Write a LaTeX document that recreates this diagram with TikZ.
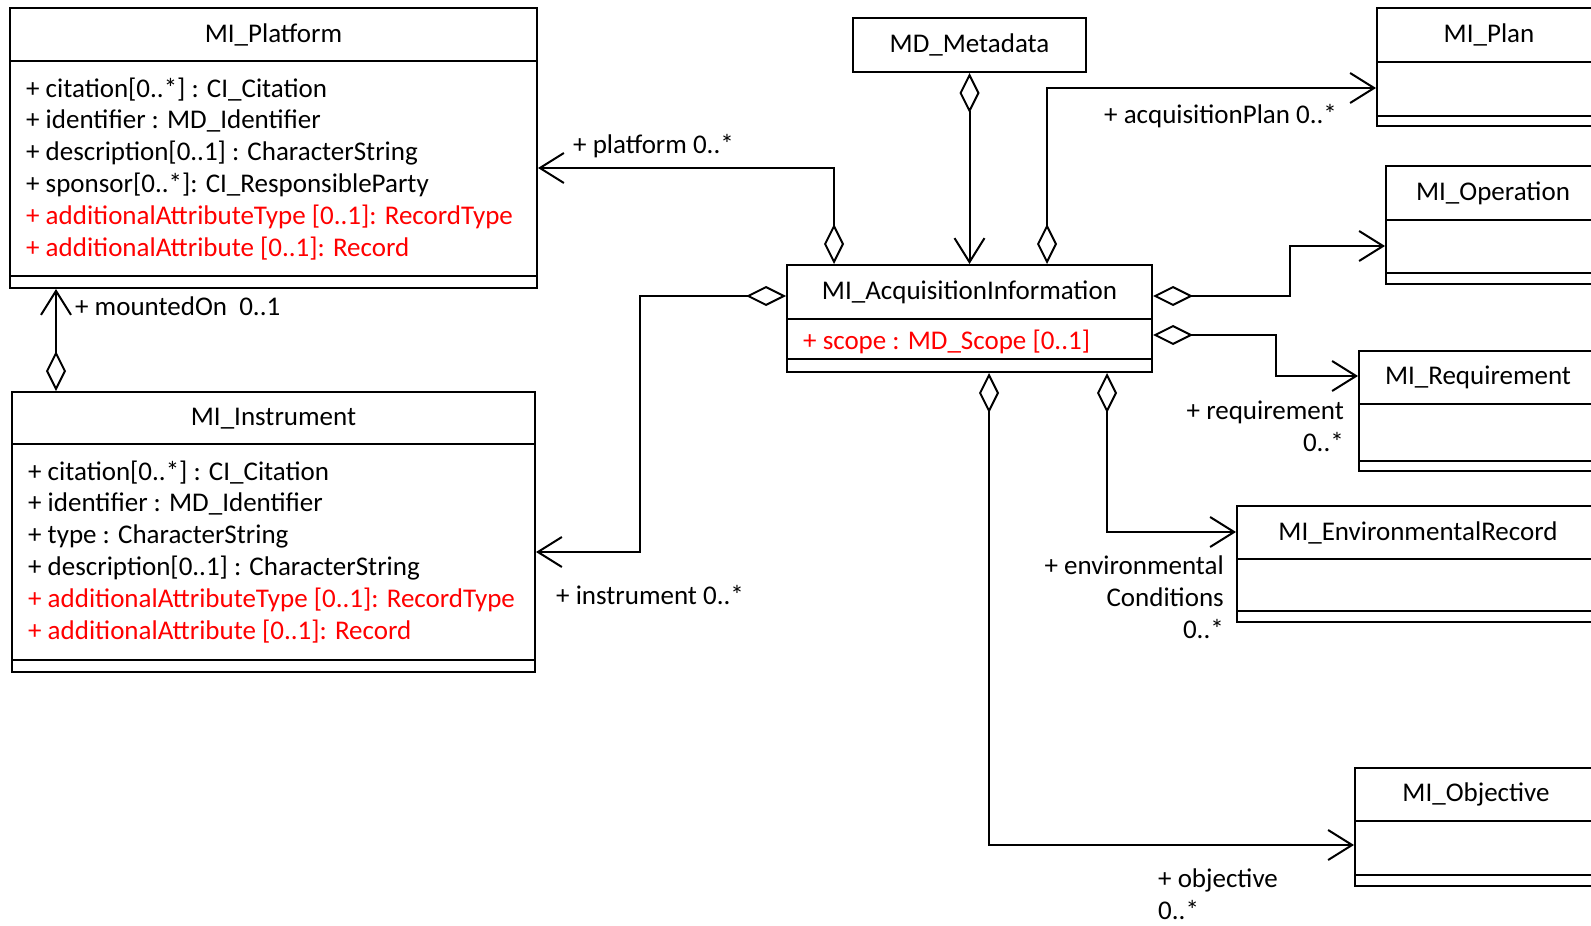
\documentclass[tikz,border=0pt]{standalone}
\usepackage{fontspec}
\setmainfont{Carlito}
\usetikzlibrary{arrows.meta,positioning}

\tikzset{
	classbox/.style={draw, line width=2pt, anchor=north west, inner sep=0pt},
	classname/.style={anchor=north, minimum height=53pt, inner sep=0pt, yshift=-1pt},
	attrlist/.style={anchor=north west, align=left, inner xsep=17pt, inner ysep=16pt},
	divider/.style={line width=2pt},
	assoc/.style={line width=2pt, {Diamond[open,length=40pt,width=20pt]}-{Straight Barb[length=24pt,width=30pt]}},
	role/.style={inner sep=0pt},
}

\begin{document}
\begin{tikzpicture}[x=1pt, y=-1pt, font=\fontsize{27}{31.8}\selectfont]
	\useasboundingbox (0,0) rectangle (1591,926);
	\clip (0,0) rectangle (1591,926);

	% Classes
	% MI_Platform
	\node[classbox, minimum width=527pt, minimum height=280pt] (plat) at (9,7) {};
	\node[classname] (plat-name) at (plat.north) {MI\_Platform};
	\draw[divider] (plat.west |- plat-name.south) -- (plat.east |- plat-name.south);
	\node[attrlist] (plat-attr) at (plat.west |- plat-name.south) {%
		+ citation[0..*] : CI\_Citation\\
		+ identifier : MD\_Identifier\\
		+ description[0..1] : CharacterString\\
		+ sponsor[0..*]: CI\_ResponsibleParty\\
		\textcolor{red}{+ additionalAttributeType [0..1]: RecordType}\\
		\textcolor{red}{+ additionalAttribute [0..1]: Record}};
	\draw[divider] ([yshift=13pt]plat.south west) -- ([yshift=13pt]plat.south east);

	% MI_Instrument
	\node[classbox, minimum width=523pt, minimum height=280pt] (inst) at (11,391) {};
	\node[classname, minimum height=52pt] (inst-name) at (inst.north) {MI\_Instrument};
	\draw[divider] (inst.west |- inst-name.south) -- (inst.east |- inst-name.south);
	\node[attrlist] (inst-attr) at (inst.west |- inst-name.south) {%
		+ citation[0..*] : CI\_Citation\\
		+ identifier : MD\_Identifier\\
		+ type : CharacterString\\
		+ description[0..1] : CharacterString\\
		\textcolor{red}{+ additionalAttributeType [0..1]: RecordType}\\
		\textcolor{red}{+ additionalAttribute [0..1]: Record}};
	\draw[divider] ([yshift=13pt]inst.south west) -- ([yshift=13pt]inst.south east);

	% MD_Metadata
	\node[classbox, minimum width=233pt, minimum height=54pt] (meta) at (852,17) {};
	\node[classname, minimum height=54pt] (meta-name) at (meta.north) {MD\_Metadata};

	% MI_AcquisitionInformation
	\node[classbox, minimum width=365pt, minimum height=107pt] (acq) at (786,264) {};
	\node[classname, minimum height=54pt] (acq-name) at (acq.north) {MI\_AcquisitionInformation};
	\draw[divider] (acq.west |- acq-name.south) -- (acq.east |- acq-name.south);
	\node[attrlist, inner ysep=10pt] (acq-attr) at (acq.west |- acq-name.south) {%
		\textcolor{red}{+ scope : MD\_Scope [0..1]}};
	\draw[divider] ([yshift=14pt]acq.south west) -- ([yshift=14pt]acq.south east);

	% MI_Plan
	\node[classbox, minimum width=224pt, minimum height=118pt] (plan) at (1376,7) {};
	\node[classname, minimum height=54pt] (plan-name) at (plan.north) {MI\_Plan};
	\draw[divider] (plan.west |- plan-name.south) -- (plan.east |- plan-name.south);
	\draw[divider] ([yshift=11pt]plan.south west) -- ([yshift=11pt]plan.south east);

	% MI_Operation
	\node[classbox, minimum width=214pt, minimum height=118pt] (oper) at (1385,165) {};
	\node[classname, minimum height=54pt] (oper-name) at (oper.north) {MI\_Operation};
	\draw[divider] (oper.west |- oper-name.south) -- (oper.east |- oper-name.south);
	\draw[divider] ([yshift=12pt]oper.south west) -- ([yshift=12pt]oper.south east);

	% MI_Requirement
	\node[classbox, minimum width=238pt, minimum height=120pt] (req) at (1358,350) {};
	\node[classname] (req-name) at (req.north) {MI\_Requirement};
	\draw[divider] (req.west |- req-name.south) -- (req.east |- req-name.south);
	\draw[divider] ([yshift=11pt]req.south west) -- ([yshift=11pt]req.south east);

	% MI_EnvironmentalRecord
	\node[classbox, minimum width=362pt, minimum height=116pt] (env) at (1236,505) {};
	\node[classname] (env-name) at (env.north) {MI\_EnvironmentalRecord};
	\draw[divider] (env.west |- env-name.south) -- (env.east |- env-name.south);
	\draw[divider] ([yshift=12pt]env.south west) -- ([yshift=12pt]env.south east);

	% MI_Objective
	\node[classbox, minimum width=242pt, minimum height=118pt] (obj) at (1354,767) {};
	\node[classname] (obj-name) at (obj.north) {MI\_Objective};
	\draw[divider] (obj.west |- obj-name.south) -- (obj.east |- obj-name.south);
	\draw[divider] ([yshift=12pt]obj.south west) -- ([yshift=12pt]obj.south east);

	% Associations
	% Instrument mounted on platform
	\draw[assoc] ([xshift=45pt]inst.north west) -- ([xshift=45pt]inst.north west |- plat.south);
	% Metadata to acquisition information
	\draw[assoc] (meta.south) -- (meta.south |- acq.north);
	% Acquisition information to platform and plan
	\draw[assoc] ([xshift=48pt]acq.north west) |- ([yshift=-20pt]plat.east);
	\draw[assoc] ([xshift=261pt]acq.north west) |- ([yshift=-21pt]plan.west);
	% Acquisition information to instrument
	\draw[assoc] ([yshift=-32pt]acq.north west) -- ++(-146,0) |- ([yshift=-20pt]inst.east);
	% Acquisition information to operation and requirement
	\draw[assoc] ([yshift=-32pt]acq.north east) -- ++(137,0) |- ([yshift=-21pt]oper.west);
	\draw[assoc] ([yshift=-71pt]acq.north east) -- ++(123,0) |- ([yshift=-26pt]req.north west);
	% Acquisition information to environmental record and objective
	\draw[assoc] ([xshift=321pt]acq.south west) |- ([yshift=-27pt]env.north west);
	\draw[assoc] ([xshift=203pt]acq.south west) |- ([yshift=-78pt]obj.north west);

	% Role names
	\node[role, anchor=base west] (mount-role) at (75,315) {+ mountedOn~~0..1};
	\node[role, anchor=base west] (plat-role) at (573,153) {+ platform 0..*};
	\node[role, anchor=base west] (plan-role) at (1104,123) {+ acquisitionPlan 0..*};
	\node[role, anchor=base west] (inst-role) at (556,604) {+ instrument 0..*};
	\node[role, align=right, anchor=base east] (req-role) at (1344,451) {+ requirement\\0..*};
	\node[role, align=right, anchor=base east] (env-role) at (1224,638) {+ environmental\\Conditions\\0..*};
	\node[role, align=left, anchor=base west] (obj-role) at (1158,919) {+ objective\\0..*};
\end{tikzpicture}
\end{document}
